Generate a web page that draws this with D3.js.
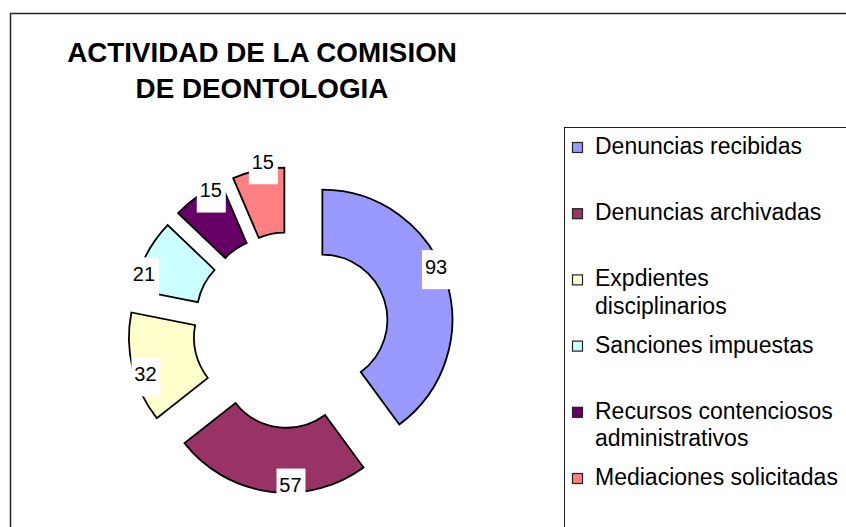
<!DOCTYPE html>
<html>
<head>
<meta charset="utf-8">
<script src="https://cdn.jsdelivr.net/npm/d3@7"></script>
<style>
  html, body { margin: 0; padding: 0; background: #fff; }
  svg { display: block; font-family: Arial, "Liberation Sans", sans-serif; }
</style>
</head>
<body>
<svg id="chart" width="846" height="527"></svg>
<script>
// ---- data ----
const titleLines = ["ACTIVIDAD DE LA COMISION", "DE DEONTOLOGIA"];
const categories = [
  "Denuncias recibidas",
  "Denuncias archivadas",
  "Expdientes disciplinarios",
  "Sanciones impuestas",
  "Recursos contenciosos administrativos",
  "Mediaciones solicitadas"
];
const values = [93, 57, 32, 21, 15, 15];
const colors = ["#9999FF", "#993366", "#FFFFCC", "#CCFFFF", "#660066", "#FF8080"];

// ---- layout ----
const W = 846, H = 527;
const cx = 291, cy = 330;
const outerR = 130, innerR = 65, explode = 33, labelR = 127;
// small per-label nudges (Excel label placement)
const labelNudge = [[-7, -14], [21, -4], [10, 6], [-5, 17], [11, -9], [4, -12]];

const svg = d3.select("#chart");

// chart area border
svg.append("rect")
  .attr("x", 10.5).attr("y", 13.5)
  .attr("width", W + 20).attr("height", H + 20)
  .attr("fill", "#fff").attr("stroke", "#222").attr("stroke-width", 1.5);

// title
svg.append("g").selectAll("text").data(titleLines).join("text")
  .attr("x", 262).attr("y", (d, i) => 62 + i * 36)
  .attr("text-anchor", "middle")
  .attr("font-size", 27.8).attr("font-weight", "bold").attr("fill", "#000")
  .text(d => d);

// doughnut
const pie = d3.pie().sort(null).value(d => d).startAngle(0).endAngle(2 * Math.PI);
const arcs = pie(values);
const arc = d3.arc().innerRadius(innerR).outerRadius(outerR);
const dir = a => [Math.sin(a), -Math.cos(a)];

const g = svg.append("g").attr("transform", `translate(${cx},${cy})`);
g.selectAll("path").data(arcs).join("path")
  .attr("transform", d => {
    const m = (d.startAngle + d.endAngle) / 2, v = dir(m);
    return `translate(${v[0] * explode},${v[1] * explode})`;
  })
  .attr("d", arc)
  .attr("fill", (d, i) => colors[i])
  .attr("stroke", "#000").attr("stroke-width", 1.8).attr("stroke-linejoin", "miter");

// data labels
const lbl = g.append("g").selectAll("g").data(arcs).join("g")
  .attr("transform", (d, i) => {
    const m = (d.startAngle + d.endAngle) / 2, v = dir(m);
    const x = v[0] * (explode + labelR) + labelNudge[i][0];
    const y = v[1] * (explode + labelR) + labelNudge[i][1];
    return `translate(${x},${y})`;
  });
lbl.append("rect")
  .attr("x", -14).attr("y", -16).attr("width", 29).attr("height", 39)
  .attr("fill", "#fff");
lbl.append("text")
  .attr("text-anchor", "middle").attr("y", 7.5)
  .attr("font-size", 20).attr("fill", "#000")
  .text(d => d.data);

// legend
svg.append("rect")
  .attr("x", 564.5).attr("y", 127.5).attr("width", 300).attr("height", 420)
  .attr("fill", "#fff").attr("stroke", "#222").attr("stroke-width", 1);

const legend = svg.append("g");
const legendFont = 23, legendX = 595, legendTop = 154, legendStep = 66.2, lineH = 27.5, maxW = 247;

categories.forEach((name, i) => {
  const by = legendTop + i * legendStep;
  legend.append("rect")
    .attr("x", 572.5).attr("y", by - 11.5).attr("width", 10).attr("height", 10)
    .attr("fill", colors[i]).attr("stroke", "#222").attr("stroke-width", 1.2);
  const t = legend.append("text")
    .attr("x", legendX).attr("y", by)
    .attr("font-size", legendFont).attr("fill", "#000");
  // wrap words to width
  const words = name.split(" ");
  let line = [], lineNo = 0;
  let tspan = t.append("tspan").attr("x", legendX).attr("y", by);
  words.forEach(w => {
    line.push(w);
    tspan.text(line.join(" "));
    if (tspan.node().getComputedTextLength() > maxW && line.length > 1) {
      line.pop();
      tspan.text(line.join(" "));
      line = [w];
      lineNo++;
      tspan = t.append("tspan").attr("x", legendX).attr("y", by + lineNo * lineH).text(w);
    }
  });
});
</script>
</body>
</html>
